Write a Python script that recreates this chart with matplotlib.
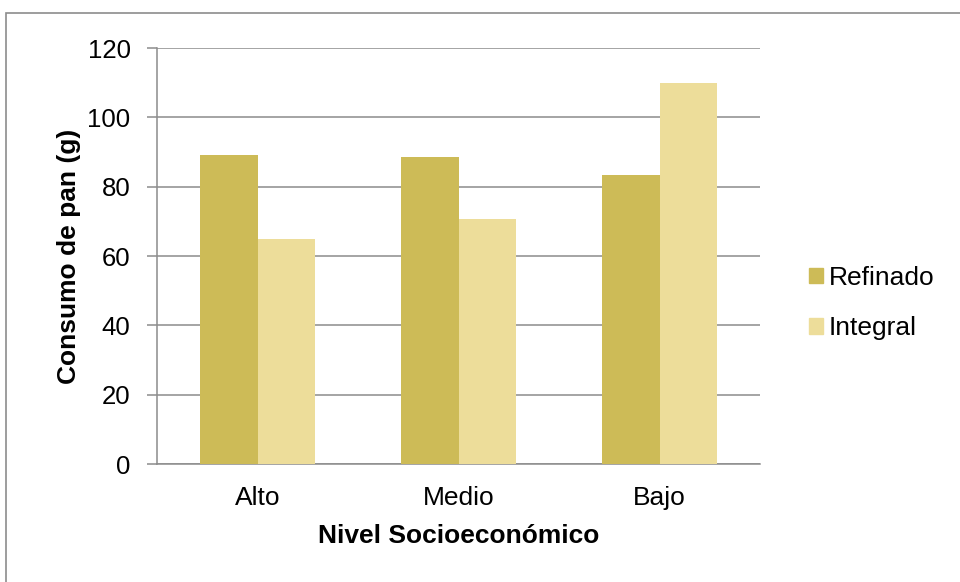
import matplotlib
matplotlib.use("Agg")
import matplotlib.pyplot as plt
import numpy as np
from matplotlib.patches import Rectangle, Patch

categories = ["Alto", "Medio", "Bajo"]
refinado = [89.2, 88.6, 83.5]
integral = [64.9, 70.6, 109.8]
series_names = ["Refinado", "Integral"]
colors = ["#CDBB57", "#EDDD9A"]

plt.rcParams['font.family'] = ['Liberation Sans', 'DejaVu Sans']

W, H = 960, 582
FS = 19
fig = plt.figure(figsize=(W/100, H/100), dpi=100)
# outer chart border (cropped at right/bottom)
fig.patches.append(Rectangle((6/W, -0.1), 1.2, 1 - 13/H + 0.1, transform=fig.transFigure,
                             fill=False, edgecolor="#8C8C8C", linewidth=1.2))

ax = fig.add_axes([157/W, 1 - 464/H, (760-157)/W, (464-48)/H])
x = np.arange(len(categories))
bw = 1/3.5
ax.bar(x - bw/2, refinado, bw, color=colors[0], zorder=3)
ax.bar(x + bw/2, integral, bw, color=colors[1], zorder=3)
ax.set_xlim(-0.5, 2.5)
ax.set_ylim(0, 120)
ax.set_yticks(range(0, 121, 20))
ax.set_xticks(x)
ax.set_xticklabels(categories)
ax.yaxis.grid(True, color="#8C8C8C", linewidth=1.1, zorder=0)
for s in ["top", "right"]:
    ax.spines[s].set_visible(False)
for s in ["left", "bottom"]:
    ax.spines[s].set_color("#8C8C8C")
    ax.spines[s].set_linewidth(1.1)
ax.tick_params(axis="y", length=7, color="#8C8C8C", width=1.1, labelsize=18.5, pad=12)
ax.tick_params(axis="x", length=0, labelsize=FS, pad=16)
ax.set_ylabel("Consumo de pan (g)", fontsize=FS, fontweight="bold", labelpad=5)
ax.set_xlabel("Nivel Socioeconómico", fontsize=FS, fontweight="bold", labelpad=10)

handles = [Patch(color=c) for c in colors]
fig.legend(handles, series_names, loc="center left", bbox_to_anchor=(785/W, 1 - 303/H),
           frameon=False, fontsize=FS, handlelength=0.55, handleheight=0.55,
           handletextpad=0.22, labelspacing=1.0)

fig.savefig("out.png", dpi=100)
